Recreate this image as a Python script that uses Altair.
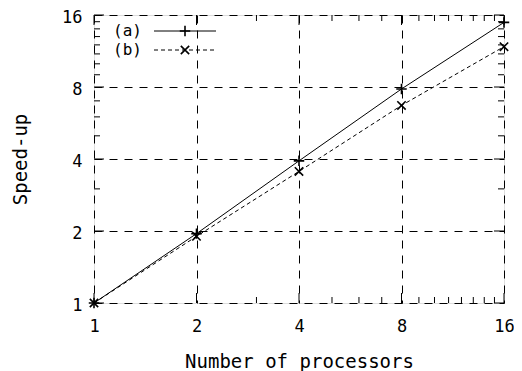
import altair as alt
import pandas as pd

procs = [1, 2, 4, 8, 16]
speedup_a = [1.0, 1.95, 3.93, 7.85, 14.9]
speedup_b = [1.0, 1.9, 3.55, 6.7, 11.8]
series_names = ["(a)", "(b)"]
major_ticks = [1, 2, 4, 8, 16]
minor_ticks = [3, 5, 6, 7, 9, 10, 11, 12, 13, 14, 15]

W, H = 410, 288
FONT = "DejaVu Sans Mono"

df_a = pd.DataFrame({"procs": procs, "speedup": speedup_a})
df_b = pd.DataFrame({"procs": procs, "speedup": speedup_b})
df_major = pd.DataFrame({"procs": major_ticks, "speedup": major_ticks})
df_minor = pd.DataFrame({"procs": minor_ticks, "speedup": minor_ticks})

xs = alt.Scale(type="log", base=2, domain=[1, 16], nice=False)
ys = alt.Scale(type="log", base=2, domain=[1, 16], nice=False)

PLUS = "M-1,0L1,0M0,-1L0,1"
CROSS = "M-1,-1L1,1M-1,1L1,-1"

x_axis = alt.Axis(values=major_ticks, grid=True, gridDash=[8, 7], gridColor="black",
                  gridOpacity=1, gridWidth=1, ticks=False, domain=False,
                  labelFont=FONT, labelFontSize=17, labelColor="black", labelPadding=15,
                  labelFlush=False, labelOverlap=False,
                  title="Number of processors", titleFont=FONT, titleFontSize=19,
                  titleFontWeight="normal", titleColor="black", titleY=58,
                  titleBaseline="middle")
y_axis = alt.Axis(values=major_ticks, grid=True, gridDash=[8, 7], gridColor="black",
                  gridOpacity=1, gridWidth=1, ticks=False, domain=False,
                  labelFont=FONT, labelFontSize=17, labelColor="black", labelPadding=12,
                  labelFlush=False, labelOverlap=False, labelOffset=2,
                  title="Speed-up", titleFont=FONT, titleFontSize=19,
                  titleFontWeight="normal", titleColor="black", titleX=-74,
                  titleY=H / 2, titleAngle=-90, titleBaseline="middle")

X = alt.X("procs:Q", scale=xs, axis=x_axis)
Y = alt.Y("speedup:Q", scale=ys, axis=y_axis)

line_a = alt.Chart(df_a).mark_line(color="black", strokeWidth=1).encode(x=X, y=Y)
pts_a = alt.Chart(df_a).mark_point(shape=PLUS, size=110, color="black", strokeWidth=1.6,
                                   filled=False, opacity=1).encode(x=X, y=Y)
line_b = alt.Chart(df_b).mark_line(color="black", strokeWidth=1, strokeDash=[4, 3]).encode(x=X, y=Y)
pts_b = alt.Chart(df_b).mark_point(shape=CROSS, size=70, color="black", strokeWidth=1.6,
                                   filled=False, opacity=1).encode(x=X, y=Y)

def ticks(df, length):
    rule = alt.Chart(df).mark_rule(color="black", strokeWidth=1)
    bottom = rule.encode(x=X, y=alt.value(H), y2=alt.value(H - length))
    top = rule.encode(x=X, y=alt.value(0), y2=alt.value(length))
    left = rule.encode(y=Y, x=alt.value(0), x2=alt.value(length))
    right = rule.encode(y=Y, x=alt.value(W), x2=alt.value(W - length))
    return [bottom, top, left, right]

tick_layers = ticks(df_major, 10) + ticks(df_minor, 6)

# legend
leg_df = pd.DataFrame({"label": series_names})
legend_layers = []
for i, (name, shape, dash, size) in enumerate(
        [("(a)", PLUS, [1, 0], 110), ("(b)", CROSS, [4, 3], 70)]):
    yy = 16 + 19 * i
    d = leg_df[leg_df["label"] == name]
    legend_layers.append(alt.Chart(d).mark_text(align="right", baseline="middle", font=FONT,
                                                fontSize=16, color="black").encode(
        text="label:N", x=alt.value(48), y=alt.value(yy)))
    legend_layers.append(alt.Chart(d).mark_rule(color="black", strokeWidth=1, strokeDash=dash).encode(
        x=alt.value(60), x2=alt.value(122), y=alt.value(yy)))
    legend_layers.append(alt.Chart(d).mark_point(shape=shape, size=size, color="black",
                                                 strokeWidth=1.6, filled=False, opacity=1).encode(
        x=alt.value(91), y=alt.value(yy)))

chart = alt.layer(line_a, line_b, pts_a, pts_b, *tick_layers, *legend_layers).properties(
    width=W, height=H,
    padding={"left": 86, "top": 7, "right": 10, "bottom": 68},
    autosize=alt.AutoSizeParams(type="none"),
).configure_view(stroke="black", strokeWidth=1.8).configure(background="white")

chart.save("out.html", embed_options={"renderer": "svg", "actions": False})
